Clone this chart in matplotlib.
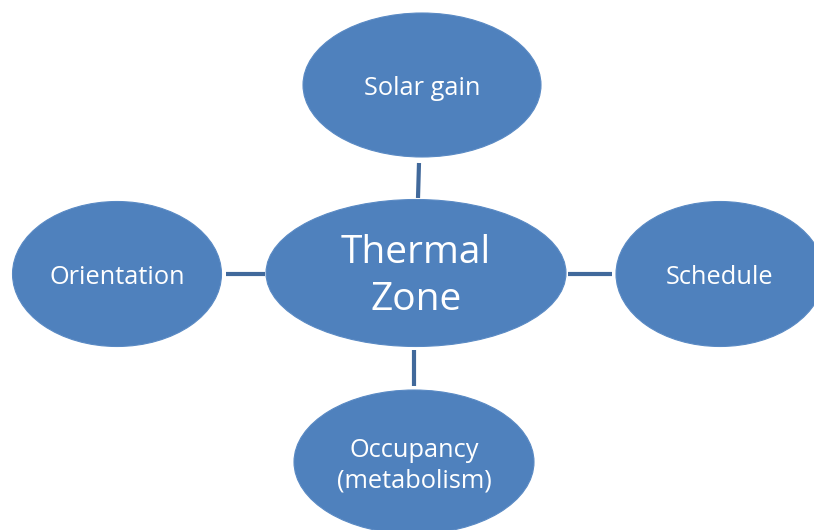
import matplotlib
matplotlib.use("Agg")
import matplotlib.pyplot as plt
from matplotlib.patches import Ellipse

# Node labels
labels = ["Thermal\nZone", "Solar gain", "Orientation", "Schedule", "Occupancy\n(metabolism)"]
# Node geometry (pixel coordinates, y down): center x, center y, width, height
cx = [416, 422, 117, 720, 414]
cy = [273, 85, 274, 274, 462]
ew = [300, 238, 209, 208, 240]
eh = [147, 144, 145, 145, 144]
fs = [28, 18.3, 18.3, 18.3, 18.3]

# Connectors: (x0, y0, x1, y1)
conn_x0 = [419, 226, 568, 414]
conn_y0 = [163, 274, 274, 350]
conn_x1 = [418, 265, 612, 414]
conn_y1 = [198, 274, 274, 386]

fill = "#4f81bd"
line_col = "#41699b"

fig = plt.figure(figsize=(8.14, 5.30), dpi=100)
ax = fig.add_axes([0, 0, 1, 1])
ax.set_xlim(0, 814)
ax.set_ylim(530, 0)
ax.axis("off")

for x0, y0, x1, y1 in zip(conn_x0, conn_y0, conn_x1, conn_y1):
    ax.plot([x0, x1], [y0, y1], color=line_col, lw=3.0, solid_capstyle="butt")

for lab, x, y, w, h, f in zip(labels, cx, cy, ew, eh, fs):
    ax.add_patch(Ellipse((x, y), w, h, facecolor=fill, edgecolor="#5a8ac4", lw=0.8))
    ax.text(x, y + 3.5, lab, color="white", fontsize=f, ha="center", va="center",
            family="Open Sans", linespacing=1.3)

fig.savefig("out.png", dpi=100)
